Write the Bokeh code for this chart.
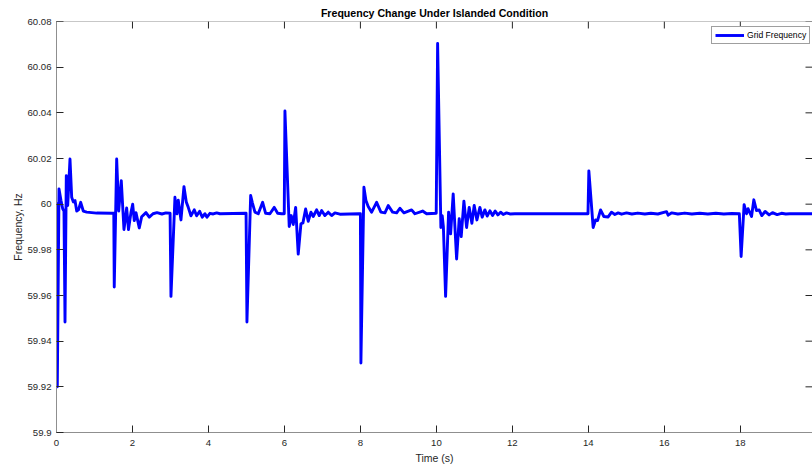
from bokeh.plotting import figure
from bokeh.models import Range1d, FixedTicker, Legend, Span
from bokeh.embed import file_html
from bokeh.resources import INLINE

# Simulated grid frequency (Hz) after each islanding / load event
time_s = [
    0.0, 0.021, 0.066, 0.118, 0.163, 0.197, 0.224, 0.258, 0.295, 0.355,
    0.40, 0.442, 0.487, 0.532, 0.579, 0.637, 0.705, 0.795, 1.058, 1.45,
    1.508, 1.52, 1.584, 1.637, 1.705, 1.776, 1.847, 1.895, 1.96, 2.005,
    2.047, 2.092, 2.179, 2.242, 2.355, 2.442, 2.54, 2.645, 2.776, 2.88,
    2.99, 3.013, 3.118, 3.171, 3.205, 3.276, 3.355, 3.416, 3.468, 3.539,
    3.626, 3.689, 3.768, 3.837, 3.908, 3.961, 4.039, 4.126, 4.216, 4.303,
    4.99, 5.013, 5.111, 5.153, 5.224, 5.311, 5.426, 5.505, 5.618, 5.732,
    5.821, 5.926, 5.995, 6.013, 6.126, 6.179, 6.232, 6.295, 6.363, 6.434,
    6.487, 6.558, 6.626, 6.697, 6.758, 6.847, 6.916, 6.979, 7.066, 7.153,
    7.242, 7.329, 7.46, 7.968, 8.0, 8.013, 8.092, 8.145, 8.205, 8.295,
    8.426, 8.539, 8.645, 8.732, 8.847, 8.953, 9.039, 9.145, 9.347, 9.434,
    9.637, 9.742, 9.995, 10.032, 10.118, 10.153, 10.184, 10.242, 10.321, 10.374,
    10.442, 10.532, 10.6, 10.653, 10.724, 10.795, 10.863, 10.934, 10.995, 11.066,
    11.145, 11.205, 11.276, 11.337, 11.408, 11.479, 11.547, 11.618, 11.689, 11.758,
    11.847, 11.934, 12.066, 13.99, 14.013, 14.126, 14.189, 14.242, 14.321, 14.408,
    14.521, 14.61, 14.697, 14.784, 14.874, 15.005, 15.145, 15.303, 15.487, 15.645,
    15.829, 16.058, 16.1, 16.197, 16.355, 16.539, 16.724, 16.934, 17.145, 17.355,
    17.566, 17.776, 17.974, 18.021, 18.1, 18.163, 18.205, 18.295, 18.355, 18.426,
    18.495, 18.566, 18.653, 18.758, 18.847, 18.968, 19.084, 19.197, 19.3, 20.0,
]
freq_hz = [
    60.0008, 59.92, 60.0067, 60.0016, 59.998, 59.997, 59.9484, 60.0125, 59.9994, 60.0198,
    60.003, 60.001, 60.0016, 59.997, 59.9975, 60.0008, 59.997, 59.9965, 59.9961, 59.996,
    59.996, 59.9637, 60.0198, 59.997, 60.0103, 59.9889, 59.9983, 59.9889, 59.9963, 60.0,
    59.9928, 59.9963, 59.9896, 59.9945, 59.9963, 59.9943, 59.9958, 59.9963, 59.9957, 59.9962,
    59.996, 59.9596, 60.003, 59.9958, 60.0017, 59.9931, 60.0077, 60.001, 59.9986, 59.9949,
    59.9975, 59.9949, 59.9969, 59.9943, 59.9958, 59.9943, 59.996, 59.9957, 59.9962, 59.9958,
    59.996, 59.9484, 60.0038, 60.0008, 59.9965, 59.9958, 60.0008, 59.996, 59.9958, 59.9986,
    59.996, 59.9958, 59.9958, 60.0408, 59.9902, 59.995, 59.9911, 59.9986, 59.9781, 59.9914,
    59.9918, 59.9979, 59.9925, 59.9965, 59.9946, 59.9975, 59.995, 59.9972, 59.995, 59.9965,
    59.995, 59.9962, 59.9956, 59.9958, 59.9958, 59.9304, 60.0074, 60.0016, 59.999, 59.9965,
    60.0008, 59.9965, 59.9962, 59.9994, 59.9965, 59.9962, 59.9982, 59.9962, 59.9975, 59.9958,
    59.997, 59.9958, 59.996, 60.0704, 59.9898, 59.995, 59.990, 59.9596, 59.9965, 59.987,
    60.0045, 59.976, 59.9936, 59.9858, 60.0013, 59.9898, 59.9986, 59.9916, 59.9994, 59.9931,
    59.9986, 59.9943, 59.9975, 59.9948, 59.9971, 59.995, 59.997, 59.9953, 59.9965, 59.9955,
    59.9962, 59.9957, 59.9958, 59.9958, 60.0146, 59.9898, 59.9931, 59.9928, 59.9975, 59.9946,
    59.9944, 59.9965, 59.9955, 59.9962, 59.9956, 59.9962, 59.9957, 59.9961, 59.9957, 59.996,
    59.9957, 59.9967, 59.9952, 59.9962, 59.9957, 59.9961, 59.9957, 59.996, 59.9957, 59.996,
    59.9957, 59.9959, 59.9958, 59.9771, 59.9998, 59.9958, 59.998, 59.9946, 60.0019, 59.9972,
    59.9975, 59.995, 59.9968, 59.9953, 59.9963, 59.9954, 59.996, 59.9957, 59.9958, 59.9958,
]

x_ticks = [0, 2, 4, 6, 8, 10, 12, 14, 16, 18, 20]
y_ticks = [59.9, 59.92, 59.94, 59.96, 59.98, 60.0, 60.02, 60.04, 60.06, 60.08]
y_tick_labels = ["59.9", "59.92", "59.94", "59.96", "59.98", "60", "60.02", "60.04", "60.06", "60.08"]

X_MIN, X_MAX = 0, 19.9
Y_MIN, Y_MAX = 59.9, 60.08

FONT = "Liberation Sans"
AXIS_GRAY = "#8f8f8f"
TICK_DARK = "#262626"

p = figure(
    width=812, height=466,
    x_range=Range1d(X_MIN, X_MAX), y_range=Range1d(Y_MIN, Y_MAX),
    output_backend="svg", toolbar_location=None,
    min_border_left=56, min_border_right=0, min_border_top=21, min_border_bottom=34,
    background_fill_color="white", border_fill_color="white",
    outline_line_color=None,
)
p.xgrid.visible = False
p.ygrid.visible = False

p.title.text = "Frequency Change Under Islanded Condition"
p.title.text_font = FONT
p.title.text_font_size = "10.6px"
p.title.text_font_style = "bold"
p.title.text_color = "#000000"
p.title.align = "center"
p.title.offset = 0
p.title.standoff = 5


def style_axis(ax):
    ax.axis_line_color = AXIS_GRAY
    ax.axis_line_width = 1
    ax.major_tick_line_color = TICK_DARK
    ax.major_tick_in = 7
    ax.major_tick_out = 0
    ax.minor_tick_line_color = None
    ax.major_label_text_font = FONT
    ax.major_label_text_color = TICK_DARK
    ax.major_label_text_font_size = "9.6px"
    ax.axis_label_text_font = FONT
    ax.axis_label_text_font_style = "normal"
    ax.axis_label_text_color = TICK_DARK
    ax.axis_label_text_font_size = "10.5px"


xb = p.xaxis[0]
style_axis(xb)
xb.ticker = FixedTicker(ticks=x_ticks)
xb.axis_label = "Time (s)"
xb.major_label_standoff = 7
xb.axis_label_standoff = 3

yl = p.yaxis[0]
style_axis(yl)
yl.ticker = FixedTicker(ticks=y_ticks)
yl.major_label_overrides = {v: s for v, s in zip(y_ticks, y_tick_labels)}
yl.axis_label = "Frequency, Hz"
yl.major_label_standoff = 5
yl.axis_label_standoff = 0

# box edge along the top of the axes
p.add_layout(Span(location=Y_MAX, dimension="width", line_color=AXIS_GRAY, line_width=1))

# inward tick marks on the top and right edges of the box (clipped to the frame)
p.scatter(x_ticks, [Y_MAX] * len(x_ticks), marker="dash", angle=1.5707963, size=14,
          line_color=TICK_DARK, line_width=1)
p.scatter([X_MAX] * len(y_ticks), y_ticks, marker="dash", size=14,
          line_color=TICK_DARK, line_width=1)

line = p.line(time_s, freq_hz, line_color="#0000ff", line_width=2.9, line_join="round")

legend = Legend(items=[("Grid Frequency", [line])], location=(655, 388))
legend.label_text_font = FONT
legend.label_text_font_size = "8.6px"
legend.label_text_color = "#000000"
legend.glyph_width = 29
legend.glyph_height = 10
legend.label_height = 10
legend.label_standoff = 3
legend.padding = 3
legend.margin = 0
legend.spacing = 0
legend.border_line_color = "#404040"
legend.border_line_width = 1
legend.background_fill_color = "white"
legend.background_fill_alpha = 1
p.add_layout(legend, "center")

open("out.html", "w").write(file_html(p, INLINE))
